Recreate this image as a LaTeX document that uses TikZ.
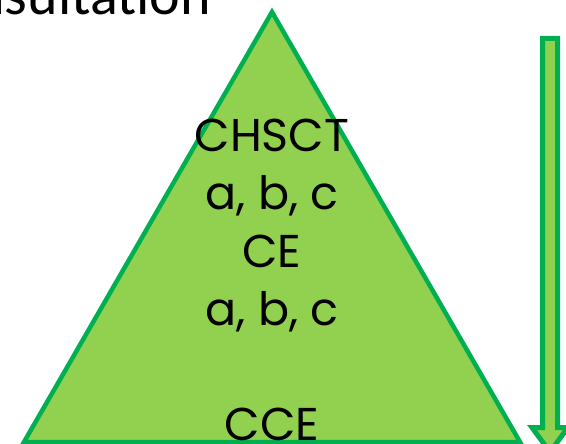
\documentclass[tikz,border=0pt]{standalone}
\usepackage{fontspec}
\setmainfont{Poppins}
\newfontfamily\titlefont{Carlito}
\definecolor{tgfill}{HTML}{92D050}
\definecolor{tgline}{HTML}{00B050}
\begin{document}
\begin{tikzpicture}[x=1pt,y=-1pt,
  shapestyle/.style={fill=tgfill,draw=tgline,line join=miter},
  lbl/.style={inner sep=0pt,anchor=base,font=\fontsize{46}{46}\selectfont}]
\useasboundingbox (0,0) rectangle (566,444);
\clip (0,0) rectangle (566,444);
\node[inner sep=0pt,anchor=base east,font=\titlefont\fontsize{58}{58}\selectfont] (title) at (211,15) {Consultation};
\draw[shapestyle,line width=4.5pt] (272,12) -- (520,442) -- (24,442) -- cycle;
\draw[shapestyle,line width=5pt] (542.5,38.5) -- (557.5,38.5) -- (557.5,427.5) -- (568,427.5) -- (550,452) -- (532,427.5) -- (542.5,427.5) -- cycle;
\node[lbl] (l1) at (272,152) {CHSCT};
\node[lbl] (l2) at (272,209) {a, b, c};
\node[lbl] (l3) at (272,267) {CE};
\node[lbl] (l4) at (272,325) {a, b, c};
\node[lbl] (l5) at (272,440) {CCE};
\end{tikzpicture}
\end{document}
